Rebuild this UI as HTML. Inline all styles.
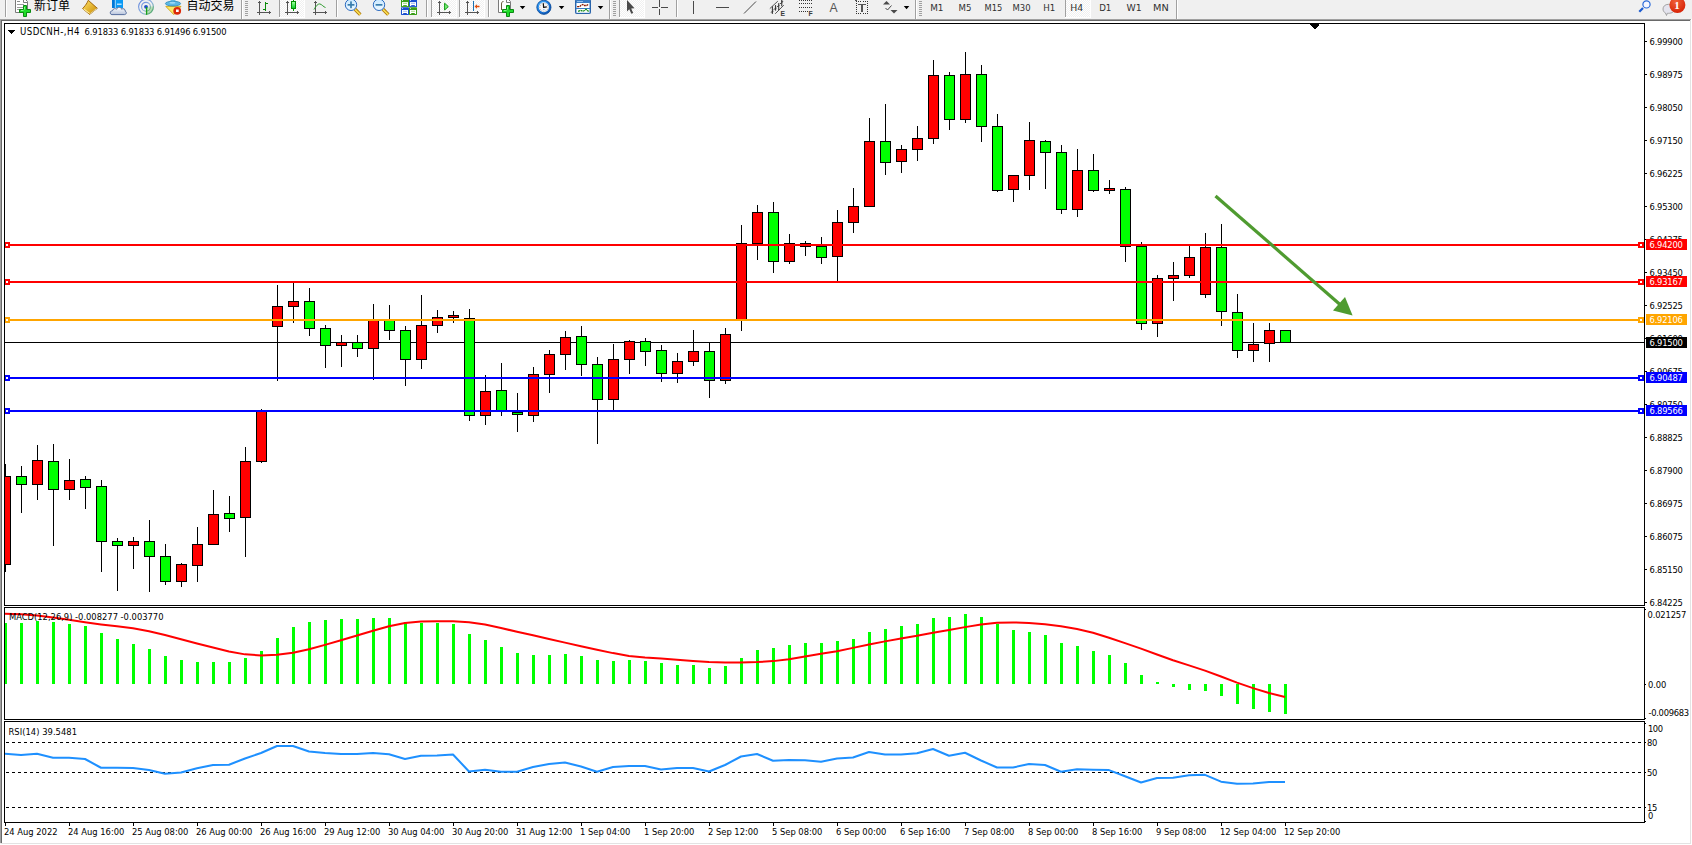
<!DOCTYPE html>
<html><head><meta charset="utf-8"><title>MT4 USDCNH H4</title>
<style>
html,body{margin:0;padding:0;}
body{width:1692px;height:845px;overflow:hidden;background:#f0f0f0;position:relative;}
svg{position:absolute;left:0;top:0;display:block;}
text{font-family:"DejaVu Sans Condensed","DejaVu Sans","Liberation Sans",sans-serif;font-stretch:condensed;font-size:9.3px;letter-spacing:0;fill:#000;white-space:pre;}
text.cjk{font-family:"Liberation Sans","Noto Sans CJK SC",sans-serif;font-size:12px;letter-spacing:0;}
text.tf{font-family:"DejaVu Sans","Liberation Sans",sans-serif;font-stretch:normal;font-size:9.5px;fill:#303030;}
text.wl{fill:#fff;}
</style></head><body>
<svg width="1692" height="845" viewBox="0 0 1692 845">
<rect x="0" y="0" width="1692" height="19" fill="#f0f0f0"/>
<rect x="0" y="19" width="1691" height="1" fill="#a0a0a0"/>
<rect x="0" y="19" width="1" height="824" fill="#a0a0a0"/>
<rect x="1" y="20" width="1689" height="1" fill="#696969"/>
<rect x="1" y="20" width="1" height="823" fill="#696969"/>
<rect x="1690" y="20" width="1" height="824" fill="#e3e3e3"/>
<rect x="1" y="843" width="1690" height="1" fill="#e3e3e3"/>
<rect x="1691" y="19" width="1" height="826" fill="#ffffff"/>
<rect x="0" y="844" width="1692" height="1" fill="#ffffff"/>
<rect x="2" y="21" width="1688" height="822" fill="#ffffff"/>
<defs><clipPath id="cp"><rect x="5" y="24" width="1639" height="581"/></clipPath><clipPath id="cm"><rect x="5" y="608" width="1639" height="111"/></clipPath><clipPath id="cr"><rect x="5" y="722" width="1639" height="100"/></clipPath></defs>
<g clip-path="url(#cp)" shape-rendering="crispEdges">
<rect x="5" y="342" width="1639" height="1" fill="#000000"/>
<rect x="5" y="464" width="1" height="108" fill="#000"/>
<rect x="0" y="476" width="11" height="89" fill="#000"/>
<rect x="1" y="477" width="9" height="87" fill="#ff0000"/>
<rect x="21" y="466" width="1" height="47" fill="#000"/>
<rect x="16" y="476" width="11" height="9" fill="#000"/>
<rect x="17" y="477" width="9" height="7" fill="#00ff00"/>
<rect x="37" y="445" width="1" height="55" fill="#000"/>
<rect x="32" y="460" width="11" height="25" fill="#000"/>
<rect x="33" y="461" width="9" height="23" fill="#ff0000"/>
<rect x="53" y="444" width="1" height="102" fill="#000"/>
<rect x="48" y="461" width="11" height="29" fill="#000"/>
<rect x="49" y="462" width="9" height="27" fill="#00ff00"/>
<rect x="69" y="459" width="1" height="41" fill="#000"/>
<rect x="64" y="480" width="11" height="10" fill="#000"/>
<rect x="65" y="481" width="9" height="8" fill="#ff0000"/>
<rect x="85" y="476" width="1" height="33" fill="#000"/>
<rect x="80" y="479" width="11" height="9" fill="#000"/>
<rect x="81" y="480" width="9" height="7" fill="#00ff00"/>
<rect x="101" y="480" width="1" height="92" fill="#000"/>
<rect x="96" y="486" width="11" height="56" fill="#000"/>
<rect x="97" y="487" width="9" height="54" fill="#00ff00"/>
<rect x="117" y="538" width="1" height="53" fill="#000"/>
<rect x="112" y="541" width="11" height="5" fill="#000"/>
<rect x="113" y="542" width="9" height="3" fill="#00ff00"/>
<rect x="133" y="537" width="1" height="32" fill="#000"/>
<rect x="128" y="541" width="11" height="5" fill="#000"/>
<rect x="129" y="542" width="9" height="3" fill="#ff0000"/>
<rect x="149" y="520" width="1" height="72" fill="#000"/>
<rect x="144" y="541" width="11" height="16" fill="#000"/>
<rect x="145" y="542" width="9" height="14" fill="#00ff00"/>
<rect x="165" y="544" width="1" height="41" fill="#000"/>
<rect x="160" y="556" width="11" height="26" fill="#000"/>
<rect x="161" y="557" width="9" height="24" fill="#00ff00"/>
<rect x="181" y="563" width="1" height="24" fill="#000"/>
<rect x="176" y="564" width="11" height="18" fill="#000"/>
<rect x="177" y="565" width="9" height="16" fill="#ff0000"/>
<rect x="197" y="527" width="1" height="55" fill="#000"/>
<rect x="192" y="544" width="11" height="22" fill="#000"/>
<rect x="193" y="545" width="9" height="20" fill="#ff0000"/>
<rect x="213" y="490" width="1" height="55" fill="#000"/>
<rect x="208" y="514" width="11" height="31" fill="#000"/>
<rect x="209" y="515" width="9" height="29" fill="#ff0000"/>
<rect x="229" y="496" width="1" height="36" fill="#000"/>
<rect x="224" y="513" width="11" height="6" fill="#000"/>
<rect x="225" y="514" width="9" height="4" fill="#00ff00"/>
<rect x="245" y="447" width="1" height="110" fill="#000"/>
<rect x="240" y="461" width="11" height="57" fill="#000"/>
<rect x="241" y="462" width="9" height="55" fill="#ff0000"/>
<rect x="261" y="409" width="1" height="54" fill="#000"/>
<rect x="256" y="410" width="11" height="52" fill="#000"/>
<rect x="257" y="411" width="9" height="50" fill="#ff0000"/>
<rect x="277" y="285" width="1" height="96" fill="#000"/>
<rect x="272" y="306" width="11" height="21" fill="#000"/>
<rect x="273" y="307" width="9" height="19" fill="#ff0000"/>
<rect x="293" y="283" width="1" height="40" fill="#000"/>
<rect x="288" y="301" width="11" height="6" fill="#000"/>
<rect x="289" y="302" width="9" height="4" fill="#ff0000"/>
<rect x="309" y="288" width="1" height="48" fill="#000"/>
<rect x="304" y="301" width="11" height="28" fill="#000"/>
<rect x="305" y="302" width="9" height="26" fill="#00ff00"/>
<rect x="325" y="325" width="1" height="43" fill="#000"/>
<rect x="320" y="328" width="11" height="18" fill="#000"/>
<rect x="321" y="329" width="9" height="16" fill="#00ff00"/>
<rect x="341" y="335" width="1" height="32" fill="#000"/>
<rect x="336" y="342" width="11" height="4" fill="#000"/>
<rect x="337" y="343" width="9" height="2" fill="#ff0000"/>
<rect x="357" y="335" width="1" height="22" fill="#000"/>
<rect x="352" y="342" width="11" height="7" fill="#000"/>
<rect x="353" y="343" width="9" height="5" fill="#00ff00"/>
<rect x="373" y="304" width="1" height="76" fill="#000"/>
<rect x="368" y="320" width="11" height="29" fill="#000"/>
<rect x="369" y="321" width="9" height="27" fill="#ff0000"/>
<rect x="389" y="305" width="1" height="35" fill="#000"/>
<rect x="384" y="320" width="11" height="11" fill="#000"/>
<rect x="385" y="321" width="9" height="9" fill="#00ff00"/>
<rect x="405" y="326" width="1" height="60" fill="#000"/>
<rect x="400" y="330" width="11" height="30" fill="#000"/>
<rect x="401" y="331" width="9" height="28" fill="#00ff00"/>
<rect x="421" y="295" width="1" height="74" fill="#000"/>
<rect x="416" y="325" width="11" height="35" fill="#000"/>
<rect x="417" y="326" width="9" height="33" fill="#ff0000"/>
<rect x="437" y="310" width="1" height="23" fill="#000"/>
<rect x="432" y="317" width="11" height="9" fill="#000"/>
<rect x="433" y="318" width="9" height="7" fill="#ff0000"/>
<rect x="453" y="311" width="1" height="12" fill="#000"/>
<rect x="448" y="315" width="11" height="3" fill="#000"/>
<rect x="449" y="316" width="9" height="1" fill="#ff0000"/>
<rect x="469" y="309" width="1" height="112" fill="#000"/>
<rect x="464" y="318" width="11" height="98" fill="#000"/>
<rect x="465" y="319" width="9" height="96" fill="#00ff00"/>
<rect x="485" y="375" width="1" height="50" fill="#000"/>
<rect x="480" y="391" width="11" height="25" fill="#000"/>
<rect x="481" y="392" width="9" height="23" fill="#ff0000"/>
<rect x="501" y="363" width="1" height="53" fill="#000"/>
<rect x="496" y="390" width="11" height="22" fill="#000"/>
<rect x="497" y="391" width="9" height="20" fill="#00ff00"/>
<rect x="517" y="393" width="1" height="39" fill="#000"/>
<rect x="512" y="412" width="11" height="3" fill="#000"/>
<rect x="513" y="413" width="9" height="1" fill="#00ff00"/>
<rect x="533" y="367" width="1" height="55" fill="#000"/>
<rect x="528" y="374" width="11" height="42" fill="#000"/>
<rect x="529" y="375" width="9" height="40" fill="#ff0000"/>
<rect x="549" y="350" width="1" height="43" fill="#000"/>
<rect x="544" y="354" width="11" height="21" fill="#000"/>
<rect x="545" y="355" width="9" height="19" fill="#ff0000"/>
<rect x="565" y="331" width="1" height="39" fill="#000"/>
<rect x="560" y="337" width="11" height="18" fill="#000"/>
<rect x="561" y="338" width="9" height="16" fill="#ff0000"/>
<rect x="581" y="326" width="1" height="50" fill="#000"/>
<rect x="576" y="336" width="11" height="29" fill="#000"/>
<rect x="577" y="337" width="9" height="27" fill="#00ff00"/>
<rect x="597" y="357" width="1" height="87" fill="#000"/>
<rect x="592" y="364" width="11" height="36" fill="#000"/>
<rect x="593" y="365" width="9" height="34" fill="#00ff00"/>
<rect x="613" y="344" width="1" height="67" fill="#000"/>
<rect x="608" y="359" width="11" height="41" fill="#000"/>
<rect x="609" y="360" width="9" height="39" fill="#ff0000"/>
<rect x="629" y="340" width="1" height="34" fill="#000"/>
<rect x="624" y="341" width="11" height="19" fill="#000"/>
<rect x="625" y="342" width="9" height="17" fill="#ff0000"/>
<rect x="645" y="338" width="1" height="28" fill="#000"/>
<rect x="640" y="341" width="11" height="11" fill="#000"/>
<rect x="641" y="342" width="9" height="9" fill="#00ff00"/>
<rect x="661" y="345" width="1" height="37" fill="#000"/>
<rect x="656" y="350" width="11" height="24" fill="#000"/>
<rect x="657" y="351" width="9" height="22" fill="#00ff00"/>
<rect x="677" y="353" width="1" height="30" fill="#000"/>
<rect x="672" y="361" width="11" height="13" fill="#000"/>
<rect x="673" y="362" width="9" height="11" fill="#ff0000"/>
<rect x="693" y="330" width="1" height="36" fill="#000"/>
<rect x="688" y="351" width="11" height="11" fill="#000"/>
<rect x="689" y="352" width="9" height="9" fill="#ff0000"/>
<rect x="709" y="342" width="1" height="56" fill="#000"/>
<rect x="704" y="351" width="11" height="30" fill="#000"/>
<rect x="705" y="352" width="9" height="28" fill="#00ff00"/>
<rect x="725" y="328" width="1" height="56" fill="#000"/>
<rect x="720" y="334" width="11" height="47" fill="#000"/>
<rect x="721" y="335" width="9" height="45" fill="#ff0000"/>
<rect x="741" y="225" width="1" height="106" fill="#000"/>
<rect x="736" y="243" width="11" height="77" fill="#000"/>
<rect x="737" y="244" width="9" height="75" fill="#ff0000"/>
<rect x="757" y="205" width="1" height="55" fill="#000"/>
<rect x="752" y="212" width="11" height="32" fill="#000"/>
<rect x="753" y="213" width="9" height="30" fill="#ff0000"/>
<rect x="773" y="202" width="1" height="71" fill="#000"/>
<rect x="768" y="212" width="11" height="50" fill="#000"/>
<rect x="769" y="213" width="9" height="48" fill="#00ff00"/>
<rect x="789" y="234" width="1" height="30" fill="#000"/>
<rect x="784" y="243" width="11" height="19" fill="#000"/>
<rect x="785" y="244" width="9" height="17" fill="#ff0000"/>
<rect x="805" y="241" width="1" height="15" fill="#000"/>
<rect x="800" y="243" width="11" height="4" fill="#000"/>
<rect x="801" y="244" width="9" height="2" fill="#ff0000"/>
<rect x="821" y="237" width="1" height="27" fill="#000"/>
<rect x="816" y="246" width="11" height="12" fill="#000"/>
<rect x="817" y="247" width="9" height="10" fill="#00ff00"/>
<rect x="837" y="210" width="1" height="72" fill="#000"/>
<rect x="832" y="222" width="11" height="35" fill="#000"/>
<rect x="833" y="223" width="9" height="33" fill="#ff0000"/>
<rect x="853" y="188" width="1" height="45" fill="#000"/>
<rect x="848" y="206" width="11" height="17" fill="#000"/>
<rect x="849" y="207" width="9" height="15" fill="#ff0000"/>
<rect x="869" y="118" width="1" height="89" fill="#000"/>
<rect x="864" y="141" width="11" height="66" fill="#000"/>
<rect x="865" y="142" width="9" height="64" fill="#ff0000"/>
<rect x="885" y="104" width="1" height="71" fill="#000"/>
<rect x="880" y="141" width="11" height="22" fill="#000"/>
<rect x="881" y="142" width="9" height="20" fill="#00ff00"/>
<rect x="901" y="145" width="1" height="28" fill="#000"/>
<rect x="896" y="149" width="11" height="13" fill="#000"/>
<rect x="897" y="150" width="9" height="11" fill="#ff0000"/>
<rect x="917" y="126" width="1" height="35" fill="#000"/>
<rect x="912" y="138" width="11" height="12" fill="#000"/>
<rect x="913" y="139" width="9" height="10" fill="#ff0000"/>
<rect x="933" y="60" width="1" height="84" fill="#000"/>
<rect x="928" y="75" width="11" height="64" fill="#000"/>
<rect x="929" y="76" width="9" height="62" fill="#ff0000"/>
<rect x="949" y="72" width="1" height="58" fill="#000"/>
<rect x="944" y="75" width="11" height="45" fill="#000"/>
<rect x="945" y="76" width="9" height="43" fill="#00ff00"/>
<rect x="965" y="52" width="1" height="71" fill="#000"/>
<rect x="960" y="74" width="11" height="46" fill="#000"/>
<rect x="961" y="75" width="9" height="44" fill="#ff0000"/>
<rect x="981" y="65" width="1" height="77" fill="#000"/>
<rect x="976" y="74" width="11" height="53" fill="#000"/>
<rect x="977" y="75" width="9" height="51" fill="#00ff00"/>
<rect x="997" y="114" width="1" height="78" fill="#000"/>
<rect x="992" y="126" width="11" height="65" fill="#000"/>
<rect x="993" y="127" width="9" height="63" fill="#00ff00"/>
<rect x="1013" y="175" width="1" height="27" fill="#000"/>
<rect x="1008" y="175" width="11" height="15" fill="#000"/>
<rect x="1009" y="176" width="9" height="13" fill="#ff0000"/>
<rect x="1029" y="122" width="1" height="68" fill="#000"/>
<rect x="1024" y="140" width="11" height="36" fill="#000"/>
<rect x="1025" y="141" width="9" height="34" fill="#ff0000"/>
<rect x="1045" y="140" width="1" height="49" fill="#000"/>
<rect x="1040" y="141" width="11" height="12" fill="#000"/>
<rect x="1041" y="142" width="9" height="10" fill="#00ff00"/>
<rect x="1061" y="145" width="1" height="69" fill="#000"/>
<rect x="1056" y="152" width="11" height="58" fill="#000"/>
<rect x="1057" y="153" width="9" height="56" fill="#00ff00"/>
<rect x="1077" y="149" width="1" height="68" fill="#000"/>
<rect x="1072" y="170" width="11" height="40" fill="#000"/>
<rect x="1073" y="171" width="9" height="38" fill="#ff0000"/>
<rect x="1093" y="154" width="1" height="38" fill="#000"/>
<rect x="1088" y="170" width="11" height="21" fill="#000"/>
<rect x="1089" y="171" width="9" height="19" fill="#00ff00"/>
<rect x="1109" y="180" width="1" height="14" fill="#000"/>
<rect x="1104" y="188" width="11" height="3" fill="#000"/>
<rect x="1105" y="189" width="9" height="1" fill="#ff0000"/>
<rect x="1125" y="187" width="1" height="75" fill="#000"/>
<rect x="1120" y="189" width="11" height="58" fill="#000"/>
<rect x="1121" y="190" width="9" height="56" fill="#00ff00"/>
<rect x="1141" y="242" width="1" height="88" fill="#000"/>
<rect x="1136" y="246" width="11" height="78" fill="#000"/>
<rect x="1137" y="247" width="9" height="76" fill="#00ff00"/>
<rect x="1157" y="275" width="1" height="62" fill="#000"/>
<rect x="1152" y="278" width="11" height="46" fill="#000"/>
<rect x="1153" y="279" width="9" height="44" fill="#ff0000"/>
<rect x="1173" y="262" width="1" height="39" fill="#000"/>
<rect x="1168" y="275" width="11" height="4" fill="#000"/>
<rect x="1169" y="276" width="9" height="2" fill="#ff0000"/>
<rect x="1189" y="245" width="1" height="33" fill="#000"/>
<rect x="1184" y="257" width="11" height="19" fill="#000"/>
<rect x="1185" y="258" width="9" height="17" fill="#ff0000"/>
<rect x="1205" y="233" width="1" height="65" fill="#000"/>
<rect x="1200" y="247" width="11" height="48" fill="#000"/>
<rect x="1201" y="248" width="9" height="46" fill="#ff0000"/>
<rect x="1221" y="224" width="1" height="102" fill="#000"/>
<rect x="1216" y="247" width="11" height="65" fill="#000"/>
<rect x="1217" y="248" width="9" height="63" fill="#00ff00"/>
<rect x="1237" y="294" width="1" height="64" fill="#000"/>
<rect x="1232" y="312" width="11" height="39" fill="#000"/>
<rect x="1233" y="313" width="9" height="37" fill="#00ff00"/>
<rect x="1253" y="323" width="1" height="39" fill="#000"/>
<rect x="1248" y="344" width="11" height="7" fill="#000"/>
<rect x="1249" y="345" width="9" height="5" fill="#ff0000"/>
<rect x="1269" y="323" width="1" height="39" fill="#000"/>
<rect x="1264" y="330" width="11" height="14" fill="#000"/>
<rect x="1265" y="331" width="9" height="12" fill="#ff0000"/>
<rect x="1285" y="330" width="1" height="13" fill="#000"/>
<rect x="1280" y="330" width="11" height="13" fill="#000"/>
<rect x="1281" y="331" width="9" height="11" fill="#00ff00"/>
</g>
<g shape-rendering="crispEdges">
<rect x="5" y="244" width="1639" height="2" fill="#ff0000"/>
<rect x="4" y="242" width="6" height="6" fill="#ff0000"/>
<rect x="6" y="244" width="2" height="2" fill="#fff"/>
<rect x="1638" y="242" width="6" height="6" fill="#ff0000"/>
<rect x="1640" y="244" width="2" height="2" fill="#fff"/>
<rect x="5" y="281" width="1639" height="2" fill="#ff0000"/>
<rect x="4" y="279" width="6" height="6" fill="#ff0000"/>
<rect x="6" y="281" width="2" height="2" fill="#fff"/>
<rect x="1638" y="279" width="6" height="6" fill="#ff0000"/>
<rect x="1640" y="281" width="2" height="2" fill="#fff"/>
<rect x="5" y="319" width="1639" height="2" fill="#ffa500"/>
<rect x="4" y="317" width="6" height="6" fill="#ffa500"/>
<rect x="6" y="319" width="2" height="2" fill="#fff"/>
<rect x="1638" y="317" width="6" height="6" fill="#ffa500"/>
<rect x="1640" y="319" width="2" height="2" fill="#fff"/>
<rect x="5" y="377" width="1639" height="2" fill="#0000ff"/>
<rect x="4" y="375" width="6" height="6" fill="#0000ff"/>
<rect x="6" y="377" width="2" height="2" fill="#fff"/>
<rect x="1638" y="375" width="6" height="6" fill="#0000ff"/>
<rect x="1640" y="377" width="2" height="2" fill="#fff"/>
<rect x="5" y="410" width="1639" height="2" fill="#0000ff"/>
<rect x="4" y="408" width="6" height="6" fill="#0000ff"/>
<rect x="6" y="410" width="2" height="2" fill="#fff"/>
<rect x="1638" y="408" width="6" height="6" fill="#0000ff"/>
<rect x="1640" y="410" width="2" height="2" fill="#fff"/>
</g>
<line x1="1215.5" y1="196" x2="1340" y2="304.5" stroke="#4f9b30" stroke-width="3.2"/>
<polygon points="1352.6,315.4 1333.0,310.6 1345.0,297.0" fill="#4f9b30"/>
<g fill="none" stroke="#000" stroke-width="1" shape-rendering="crispEdges">
<rect x="4.5" y="23.5" width="1640" height="582"/>
<rect x="4.5" y="607.5" width="1640" height="112"/>
<rect x="4.5" y="721.5" width="1640" height="101"/>
</g>
<g shape-rendering="crispEdges">
<rect x="1310" y="23" width="10" height="1" fill="#000"/>
<rect x="1310" y="24" width="9" height="1" fill="#000"/>
<rect x="1311" y="25" width="8" height="1" fill="#000"/>
<rect x="1312" y="26" width="6" height="1" fill="#000"/>
<rect x="1313" y="27" width="4" height="1" fill="#000"/>
<rect x="1314" y="28" width="2" height="1" fill="#000"/>
</g>
<g shape-rendering="crispEdges">
<rect x="1645" y="41" width="2" height="1" fill="#000"/>
<rect x="1645" y="74" width="2" height="1" fill="#000"/>
<rect x="1645" y="107" width="2" height="1" fill="#000"/>
<rect x="1645" y="140" width="2" height="1" fill="#000"/>
<rect x="1645" y="173" width="2" height="1" fill="#000"/>
<rect x="1645" y="206" width="2" height="1" fill="#000"/>
<rect x="1645" y="239" width="2" height="1" fill="#000"/>
<rect x="1645" y="272" width="2" height="1" fill="#000"/>
<rect x="1645" y="305" width="2" height="1" fill="#000"/>
<rect x="1645" y="338" width="2" height="1" fill="#000"/>
<rect x="1645" y="371" width="2" height="1" fill="#000"/>
<rect x="1645" y="404" width="2" height="1" fill="#000"/>
<rect x="1645" y="437" width="2" height="1" fill="#000"/>
<rect x="1645" y="470" width="2" height="1" fill="#000"/>
<rect x="1645" y="503" width="2" height="1" fill="#000"/>
<rect x="1645" y="536" width="2" height="1" fill="#000"/>
<rect x="1645" y="569" width="2" height="1" fill="#000"/>
<rect x="1645" y="602" width="2" height="1" fill="#000"/>
</g>
<text class="ax" x="1649.6" y="45" textLength="33.2">6.99900</text>
<text class="ax" x="1649.6" y="78" textLength="33.2">6.98975</text>
<text class="ax" x="1649.6" y="111" textLength="33.2">6.98050</text>
<text class="ax" x="1649.6" y="144" textLength="33.2">6.97150</text>
<text class="ax" x="1649.6" y="177" textLength="33.2">6.96225</text>
<text class="ax" x="1649.6" y="210" textLength="33.2">6.95300</text>
<text class="ax" x="1649.6" y="243" textLength="33.2">6.94375</text>
<text class="ax" x="1649.6" y="276" textLength="33.2">6.93450</text>
<text class="ax" x="1649.6" y="309" textLength="33.2">6.92525</text>
<text class="ax" x="1649.6" y="342" textLength="33.2">6.91600</text>
<text class="ax" x="1649.6" y="375" textLength="33.2">6.90675</text>
<text class="ax" x="1649.6" y="408" textLength="33.2">6.89750</text>
<text class="ax" x="1649.6" y="441" textLength="33.2">6.88825</text>
<text class="ax" x="1649.6" y="474" textLength="33.2">6.87900</text>
<text class="ax" x="1649.6" y="507" textLength="33.2">6.86975</text>
<text class="ax" x="1649.6" y="540" textLength="33.2">6.86075</text>
<text class="ax" x="1649.6" y="573" textLength="33.2">6.85150</text>
<text class="ax" x="1649.6" y="606" textLength="33.2">6.84225</text>
<g shape-rendering="crispEdges">
<rect x="1646" y="239" width="41" height="11" fill="#ff0000"/>
<rect x="1646" y="276" width="41" height="11" fill="#ff0000"/>
<rect x="1646" y="314" width="41" height="11" fill="#ffa500"/>
<rect x="1646" y="337" width="41" height="11" fill="#000000"/>
<rect x="1646" y="372" width="41" height="11" fill="#0000ff"/>
<rect x="1646" y="405" width="41" height="11" fill="#0000ff"/>
</g>
<text class="ax wl" x="1649.6" y="248.2" textLength="33.2">6.94200</text>
<text class="ax wl" x="1649.6" y="285.2" textLength="33.2">6.93167</text>
<text class="ax wl" x="1649.6" y="323.2" textLength="33.2">6.92106</text>
<text class="ax wl" x="1649.6" y="346.2" textLength="33.2">6.91500</text>
<text class="ax wl" x="1649.6" y="381.2" textLength="33.2">6.90487</text>
<text class="ax wl" x="1649.6" y="414.2" textLength="33.2">6.89566</text>
<g clip-path="url(#cm)" shape-rendering="crispEdges">
<rect x="4" y="623" width="3" height="61" fill="#00ff00"/>
<rect x="20" y="623" width="3" height="61" fill="#00ff00"/>
<rect x="36" y="621" width="3" height="63" fill="#00ff00"/>
<rect x="52" y="622" width="3" height="62" fill="#00ff00"/>
<rect x="68" y="624" width="3" height="60" fill="#00ff00"/>
<rect x="84" y="626" width="3" height="58" fill="#00ff00"/>
<rect x="100" y="633" width="3" height="51" fill="#00ff00"/>
<rect x="116" y="639" width="3" height="45" fill="#00ff00"/>
<rect x="132" y="644" width="3" height="40" fill="#00ff00"/>
<rect x="148" y="649" width="3" height="35" fill="#00ff00"/>
<rect x="164" y="656" width="3" height="28" fill="#00ff00"/>
<rect x="180" y="660" width="3" height="24" fill="#00ff00"/>
<rect x="196" y="662" width="3" height="22" fill="#00ff00"/>
<rect x="212" y="662" width="3" height="22" fill="#00ff00"/>
<rect x="228" y="662" width="3" height="22" fill="#00ff00"/>
<rect x="244" y="658" width="3" height="26" fill="#00ff00"/>
<rect x="260" y="651" width="3" height="33" fill="#00ff00"/>
<rect x="276" y="638" width="3" height="46" fill="#00ff00"/>
<rect x="292" y="627" width="3" height="57" fill="#00ff00"/>
<rect x="308" y="622" width="3" height="62" fill="#00ff00"/>
<rect x="324" y="620" width="3" height="64" fill="#00ff00"/>
<rect x="340" y="619" width="3" height="65" fill="#00ff00"/>
<rect x="356" y="619" width="3" height="65" fill="#00ff00"/>
<rect x="372" y="618" width="3" height="66" fill="#00ff00"/>
<rect x="388" y="618" width="3" height="66" fill="#00ff00"/>
<rect x="404" y="622" width="3" height="62" fill="#00ff00"/>
<rect x="420" y="623" width="3" height="61" fill="#00ff00"/>
<rect x="436" y="623" width="3" height="61" fill="#00ff00"/>
<rect x="452" y="624" width="3" height="60" fill="#00ff00"/>
<rect x="468" y="634" width="3" height="50" fill="#00ff00"/>
<rect x="484" y="640" width="3" height="44" fill="#00ff00"/>
<rect x="500" y="647" width="3" height="37" fill="#00ff00"/>
<rect x="516" y="653" width="3" height="31" fill="#00ff00"/>
<rect x="532" y="655" width="3" height="29" fill="#00ff00"/>
<rect x="548" y="655" width="3" height="29" fill="#00ff00"/>
<rect x="564" y="654" width="3" height="30" fill="#00ff00"/>
<rect x="580" y="656" width="3" height="28" fill="#00ff00"/>
<rect x="596" y="660" width="3" height="24" fill="#00ff00"/>
<rect x="612" y="661" width="3" height="23" fill="#00ff00"/>
<rect x="628" y="660" width="3" height="24" fill="#00ff00"/>
<rect x="644" y="661" width="3" height="23" fill="#00ff00"/>
<rect x="660" y="663" width="3" height="21" fill="#00ff00"/>
<rect x="676" y="665" width="3" height="19" fill="#00ff00"/>
<rect x="692" y="665" width="3" height="19" fill="#00ff00"/>
<rect x="708" y="668" width="3" height="16" fill="#00ff00"/>
<rect x="724" y="666" width="3" height="18" fill="#00ff00"/>
<rect x="740" y="658" width="3" height="26" fill="#00ff00"/>
<rect x="756" y="650" width="3" height="34" fill="#00ff00"/>
<rect x="772" y="648" width="3" height="36" fill="#00ff00"/>
<rect x="788" y="645" width="3" height="39" fill="#00ff00"/>
<rect x="804" y="643" width="3" height="41" fill="#00ff00"/>
<rect x="820" y="643" width="3" height="41" fill="#00ff00"/>
<rect x="836" y="641" width="3" height="43" fill="#00ff00"/>
<rect x="852" y="639" width="3" height="45" fill="#00ff00"/>
<rect x="868" y="632" width="3" height="52" fill="#00ff00"/>
<rect x="884" y="629" width="3" height="55" fill="#00ff00"/>
<rect x="900" y="626" width="3" height="58" fill="#00ff00"/>
<rect x="916" y="624" width="3" height="60" fill="#00ff00"/>
<rect x="932" y="618" width="3" height="66" fill="#00ff00"/>
<rect x="948" y="617" width="3" height="67" fill="#00ff00"/>
<rect x="964" y="614" width="3" height="70" fill="#00ff00"/>
<rect x="980" y="617" width="3" height="67" fill="#00ff00"/>
<rect x="996" y="624" width="3" height="60" fill="#00ff00"/>
<rect x="1012" y="630" width="3" height="54" fill="#00ff00"/>
<rect x="1028" y="632" width="3" height="52" fill="#00ff00"/>
<rect x="1044" y="635" width="3" height="49" fill="#00ff00"/>
<rect x="1060" y="643" width="3" height="41" fill="#00ff00"/>
<rect x="1076" y="646" width="3" height="38" fill="#00ff00"/>
<rect x="1092" y="651" width="3" height="33" fill="#00ff00"/>
<rect x="1108" y="655" width="3" height="29" fill="#00ff00"/>
<rect x="1124" y="663" width="3" height="21" fill="#00ff00"/>
<rect x="1140" y="675" width="3" height="9" fill="#00ff00"/>
<rect x="1156" y="682" width="3" height="2" fill="#00ff00"/>
<rect x="1172" y="684" width="3" height="3" fill="#00ff00"/>
<rect x="1188" y="684" width="3" height="6" fill="#00ff00"/>
<rect x="1204" y="684" width="3" height="7" fill="#00ff00"/>
<rect x="1220" y="684" width="3" height="12" fill="#00ff00"/>
<rect x="1236" y="684" width="3" height="20" fill="#00ff00"/>
<rect x="1252" y="684" width="3" height="25" fill="#00ff00"/>
<rect x="1268" y="684" width="3" height="28" fill="#00ff00"/>
<rect x="1284" y="684" width="3" height="30" fill="#00ff00"/>
</g>
<g clip-path="url(#cm)"><polyline points="5,613.75 21,614.37 37,615.43 53,617.40 69,619.83 85,622.24 101,624.45 117,626.34 133,628.33 149,631.16 165,634.95 181,639.23 197,643.53 213,647.59 229,651.45 245,654.37 261,655.38 277,654.85 293,652.82 309,649.22 325,644.87 341,640.27 357,635.53 373,630.79 389,626.32 405,622.95 421,621.45 437,621.13 453,621.28 469,622.23 485,624.52 501,628.02 517,631.74 533,635.33 549,638.98 565,642.64 581,646.24 597,649.73 613,653.11 629,655.90 645,657.54 661,658.62 677,659.82 693,661.10 709,662.09 725,662.47 741,662.47 757,662.11 773,661.12 789,659.20 805,656.50 821,653.85 837,651.15 853,647.89 869,644.46 885,641.39 901,638.57 917,635.72 933,632.84 949,629.96 965,627.13 981,624.48 997,622.70 1013,622.42 1029,623.06 1045,624.24 1061,626.24 1077,629.02 1093,632.79 1109,637.74 1125,643.16 1141,648.62 1157,654.45 1173,660.21 1189,665.38 1205,670.62 1221,676.55 1237,682.63 1253,688.15 1269,692.92 1285,697.00" fill="none" stroke="#ff0000" stroke-width="2" stroke-linejoin="round"/></g>
<g shape-rendering="crispEdges">
<rect x="1645" y="609" width="1" height="1" fill="#000"/>
<rect x="1645" y="684" width="1" height="1" fill="#000"/>
<rect x="1645" y="718" width="1" height="1" fill="#000"/>
</g>
<text class="ax" x="1647.5" y="618" textLength="38.8">0.021257</text>
<text class="ax" x="1648" y="688" textLength="18.3">0.00</text>
<text class="ax" x="1648.4" y="716" textLength="40.8">-0.009683</text>
<text class="lab" x="9" y="620" textLength="154.5">MACD(12,26,9) -0.008277 -0.003770</text>
<g shape-rendering="crispEdges" stroke="#000" stroke-width="1" stroke-dasharray="3,3">
<line x1="0" y1="742.5" x2="1641" y2="742.5" clip-path="url(#cr)"/>
<line x1="0" y1="772.5" x2="1641" y2="772.5" clip-path="url(#cr)"/>
<line x1="0" y1="807.5" x2="1641" y2="807.5" clip-path="url(#cr)"/>
</g>
<g clip-path="url(#cr)"><polyline points="5,753.75 21,755 37,753.75 53,757.75 69,757.75 85,759 101,767.75 117,767.75 133,768 149,770 165,773.75 181,772.5 197,768.25 213,765 229,764.75 245,758.5 261,753 277,746 293,746 309,751.5 325,753 341,754 357,754 373,753 389,754.25 405,759 421,755.75 437,755.5 453,754.5 469,771.5 485,769.75 501,771.75 517,771.75 533,767 549,764 565,762.5 581,766.5 597,771.75 613,767 629,766 645,766 661,769.5 677,768 693,768 709,771.5 725,765 741,756.5 757,754 773,760.75 789,760 805,760.25 821,761.75 837,758.5 853,757.5 869,752 885,754.5 901,754.5 917,753.25 933,749 949,755.75 965,752.75 981,760.5 997,767.5 1013,767.5 1029,764 1045,765 1061,771.75 1077,769.3 1093,769.8 1109,770.1 1125,776.3 1141,782.5 1157,778 1173,777.8 1189,775.2 1205,774.8 1221,781.7 1237,783.7 1253,783.4 1269,782 1285,782" fill="none" stroke="#1e90ff" stroke-width="2" stroke-linejoin="round"/></g>
<g shape-rendering="crispEdges">
<rect x="1645" y="723" width="1" height="1" fill="#000"/>
<rect x="1645" y="742" width="1" height="1" fill="#000"/>
<rect x="1645" y="772" width="1" height="1" fill="#000"/>
<rect x="1645" y="807" width="1" height="1" fill="#000"/>
<rect x="1645" y="821" width="1" height="1" fill="#000"/>
</g>
<text class="ax" x="1648" y="732" textLength="15.0">100</text>
<text class="ax" x="1647" y="746" textLength="10.4">80</text>
<text class="ax" x="1647" y="776" textLength="10.4">50</text>
<text class="ax" x="1647" y="811" textLength="10.4">15</text>
<text class="ax" x="1648" y="819" textLength="5.6">0</text>
<text class="lab" x="8.5" y="734.5" textLength="68.5">RSI(14) 39.5481</text>
<g shape-rendering="crispEdges">
<rect x="5" y="823" width="1" height="3" fill="#000"/>
<rect x="69" y="823" width="1" height="3" fill="#000"/>
<rect x="133" y="823" width="1" height="3" fill="#000"/>
<rect x="197" y="823" width="1" height="3" fill="#000"/>
<rect x="261" y="823" width="1" height="3" fill="#000"/>
<rect x="325" y="823" width="1" height="3" fill="#000"/>
<rect x="389" y="823" width="1" height="3" fill="#000"/>
<rect x="453" y="823" width="1" height="3" fill="#000"/>
<rect x="517" y="823" width="1" height="3" fill="#000"/>
<rect x="581" y="823" width="1" height="3" fill="#000"/>
<rect x="645" y="823" width="1" height="3" fill="#000"/>
<rect x="709" y="823" width="1" height="3" fill="#000"/>
<rect x="773" y="823" width="1" height="3" fill="#000"/>
<rect x="837" y="823" width="1" height="3" fill="#000"/>
<rect x="901" y="823" width="1" height="3" fill="#000"/>
<rect x="965" y="823" width="1" height="3" fill="#000"/>
<rect x="1029" y="823" width="1" height="3" fill="#000"/>
<rect x="1093" y="823" width="1" height="3" fill="#000"/>
<rect x="1157" y="823" width="1" height="3" fill="#000"/>
<rect x="1221" y="823" width="1" height="3" fill="#000"/>
<rect x="1285" y="823" width="1" height="3" fill="#000"/>
</g>
<text class="ax tm" x="4.0" y="835" textLength="53.6">24 Aug 2022</text>
<text class="ax tm" x="68.0" y="835" textLength="56.4">24 Aug 16:00</text>
<text class="ax tm" x="132.0" y="835" textLength="56.4">25 Aug 08:00</text>
<text class="ax tm" x="196.0" y="835" textLength="56.4">26 Aug 00:00</text>
<text class="ax tm" x="260.0" y="835" textLength="56.4">26 Aug 16:00</text>
<text class="ax tm" x="324.0" y="835" textLength="56.4">29 Aug 12:00</text>
<text class="ax tm" x="388.0" y="835" textLength="56.4">30 Aug 04:00</text>
<text class="ax tm" x="452.0" y="835" textLength="56.4">30 Aug 20:00</text>
<text class="ax tm" x="516.0" y="835" textLength="56.4">31 Aug 12:00</text>
<text class="ax tm" x="580.0" y="835" textLength="50.4">1 Sep 04:00</text>
<text class="ax tm" x="644.0" y="835" textLength="50.4">1 Sep 20:00</text>
<text class="ax tm" x="708.0" y="835" textLength="50.4">2 Sep 12:00</text>
<text class="ax tm" x="772.0" y="835" textLength="50.4">5 Sep 08:00</text>
<text class="ax tm" x="836.0" y="835" textLength="50.4">6 Sep 00:00</text>
<text class="ax tm" x="900.0" y="835" textLength="50.4">6 Sep 16:00</text>
<text class="ax tm" x="964.0" y="835" textLength="50.4">7 Sep 08:00</text>
<text class="ax tm" x="1028.0" y="835" textLength="50.4">8 Sep 00:00</text>
<text class="ax tm" x="1092.0" y="835" textLength="50.4">8 Sep 16:00</text>
<text class="ax tm" x="1156.0" y="835" textLength="50.4">9 Sep 08:00</text>
<text class="ax tm" x="1220.0" y="835" textLength="56.4">12 Sep 04:00</text>
<text class="ax tm" x="1284.0" y="835" textLength="56.4">12 Sep 20:00</text>
<g shape-rendering="crispEdges">
<rect x="8" y="30" width="7" height="1" fill="#000"/>
<rect x="9" y="31" width="5" height="1" fill="#000"/>
<rect x="10" y="32" width="3" height="1" fill="#000"/>
<rect x="11" y="33" width="1" height="1" fill="#000"/>
</g>
<text class="lab" x="20" y="35" textLength="59.5" style="font-size:9.6px">USDCNH-,H4</text>
<text class="lab" x="84.6" y="35" textLength="142">6.91833 6.91833 6.91496 6.91500</text>
<defs><pattern id="chk" width="2" height="2" patternUnits="userSpaceOnUse"><rect width="2" height="2" fill="#f0f0f0"/><rect width="1" height="1" fill="#fff"/><rect x="1" y="1" width="1" height="1" fill="#fff"/></pattern><linearGradient id="gold" x1="0" y1="0" x2="1" y2="1"><stop offset="0" stop-color="#ffe36b"/><stop offset="1" stop-color="#c98a00"/></linearGradient><linearGradient id="lgreen" x1="0" y1="0" x2="0" y2="1"><stop offset="0" stop-color="#9cff9c"/><stop offset="1" stop-color="#10d030"/></linearGradient><radialGradient id="badge" cx="0.4" cy="0.3" r="0.8"><stop offset="0" stop-color="#f0603a"/><stop offset="1" stop-color="#d41c00"/></radialGradient><linearGradient id="lens" x1="0" y1="0" x2="0" y2="1"><stop offset="0" stop-color="#c8e8ff"/><stop offset="1" stop-color="#eef8ff"/></linearGradient><linearGradient id="cloud" x1="0" y1="0" x2="0" y2="1"><stop offset="0" stop-color="#ffffff"/><stop offset="1" stop-color="#b8c4dc"/></linearGradient><radialGradient id="clk" cx="0.35" cy="0.3" r="0.8"><stop offset="0" stop-color="#4ab4ff"/><stop offset="0.6" stop-color="#1a7ae0"/><stop offset="1" stop-color="#0848a0"/></radialGradient><linearGradient id="sigr" x1="0" y1="0" x2="1" y2="1"><stop offset="0" stop-color="#2a5ad8"/><stop offset="0.55" stop-color="#6a9ad8"/><stop offset="1" stop-color="#2a9a3a"/></linearGradient><linearGradient id="sigg" x1="0" y1="0" x2="1" y2="1"><stop offset="0" stop-color="#e8f4e0"/><stop offset="1" stop-color="#5ab85a"/></linearGradient></defs>
<g shape-rendering="crispEdges">
<rect x="5" y="0" width="1" height="17" fill="#a0a0a0"/>
<rect x="6" y="0" width="1" height="17" fill="#ffffff"/>
<rect x="241" y="0" width="1" height="19" fill="#a0a0a0"/>
<rect x="242" y="0" width="1" height="19" fill="#ffffff"/>
<rect x="245" y="1" width="3" height="1" fill="#a0a0a0"/>
<rect x="245" y="3" width="3" height="1" fill="#a0a0a0"/>
<rect x="245" y="5" width="3" height="1" fill="#a0a0a0"/>
<rect x="245" y="7" width="3" height="1" fill="#a0a0a0"/>
<rect x="245" y="9" width="3" height="1" fill="#a0a0a0"/>
<rect x="245" y="11" width="3" height="1" fill="#a0a0a0"/>
<rect x="245" y="13" width="3" height="1" fill="#a0a0a0"/>
<rect x="245" y="15" width="3" height="1" fill="#a0a0a0"/>
<rect x="279" y="0" width="1" height="17" fill="#a0a0a0"/>
<rect x="280" y="0" width="1" height="17" fill="#ffffff"/>
<rect x="279" y="0" width="1" height="17" fill="#a0a0a0"/>
<rect x="280" y="0" width="24" height="17" fill="url(#chk)"/>
<rect x="304" y="0" width="1" height="18" fill="#ffffff"/>
<rect x="279" y="17" width="26" height="1" fill="#ffffff"/>
<rect x="336" y="0" width="1" height="17" fill="#a0a0a0"/>
<rect x="337" y="0" width="1" height="17" fill="#ffffff"/>
<rect x="426" y="0" width="1" height="17" fill="#a0a0a0"/>
<rect x="427" y="0" width="1" height="17" fill="#ffffff"/>
<rect x="431" y="0" width="1" height="17" fill="#a0a0a0"/>
<rect x="432" y="0" width="24" height="17" fill="url(#chk)"/>
<rect x="456" y="0" width="1" height="18" fill="#ffffff"/>
<rect x="431" y="17" width="26" height="1" fill="#ffffff"/>
<rect x="459" y="0" width="1" height="17" fill="#a0a0a0"/>
<rect x="459" y="0" width="1" height="17" fill="#a0a0a0"/>
<rect x="460" y="0" width="24" height="17" fill="url(#chk)"/>
<rect x="484" y="0" width="1" height="18" fill="#ffffff"/>
<rect x="459" y="17" width="26" height="1" fill="#ffffff"/>
<rect x="488" y="0" width="1" height="17" fill="#a0a0a0"/>
<rect x="489" y="0" width="1" height="17" fill="#ffffff"/>
<rect x="609" y="0" width="1" height="19" fill="#a0a0a0"/>
<rect x="610" y="0" width="1" height="19" fill="#ffffff"/>
<rect x="613" y="1" width="3" height="1" fill="#a0a0a0"/>
<rect x="613" y="3" width="3" height="1" fill="#a0a0a0"/>
<rect x="613" y="5" width="3" height="1" fill="#a0a0a0"/>
<rect x="613" y="7" width="3" height="1" fill="#a0a0a0"/>
<rect x="613" y="9" width="3" height="1" fill="#a0a0a0"/>
<rect x="613" y="11" width="3" height="1" fill="#a0a0a0"/>
<rect x="613" y="13" width="3" height="1" fill="#a0a0a0"/>
<rect x="613" y="15" width="3" height="1" fill="#a0a0a0"/>
<rect x="619" y="0" width="1" height="17" fill="#a0a0a0"/>
<rect x="620" y="0" width="24" height="17" fill="url(#chk)"/>
<rect x="644" y="0" width="1" height="18" fill="#ffffff"/>
<rect x="619" y="17" width="26" height="1" fill="#ffffff"/>
<rect x="676" y="0" width="1" height="17" fill="#a0a0a0"/>
<rect x="677" y="0" width="1" height="17" fill="#ffffff"/>
<rect x="915" y="0" width="1" height="19" fill="#a0a0a0"/>
<rect x="916" y="0" width="1" height="19" fill="#ffffff"/>
<rect x="919" y="1" width="3" height="1" fill="#a0a0a0"/>
<rect x="919" y="3" width="3" height="1" fill="#a0a0a0"/>
<rect x="919" y="5" width="3" height="1" fill="#a0a0a0"/>
<rect x="919" y="7" width="3" height="1" fill="#a0a0a0"/>
<rect x="919" y="9" width="3" height="1" fill="#a0a0a0"/>
<rect x="919" y="11" width="3" height="1" fill="#a0a0a0"/>
<rect x="919" y="13" width="3" height="1" fill="#a0a0a0"/>
<rect x="919" y="15" width="3" height="1" fill="#a0a0a0"/>
<rect x="1065" y="0" width="1" height="17" fill="#a0a0a0"/>
<rect x="1066" y="0" width="24" height="17" fill="url(#chk)"/>
<rect x="1090" y="0" width="1" height="18" fill="#ffffff"/>
<rect x="1065" y="17" width="26" height="1" fill="#ffffff"/>
<rect x="1176" y="0" width="1" height="19" fill="#a0a0a0"/>
<rect x="1177" y="0" width="1" height="19" fill="#ffffff"/>
</g>
<path d="M15.5,-1.5 H24.5 L27.5,1.5 V12.5 H15.5 Z" fill="#fff" stroke="#7a7a7a" stroke-width="1"/>
<path d="M23.5,-1.5 V2.5 H27.5" fill="#fff" stroke="#7a7a7a" stroke-width="1"/>
<g shape-rendering="crispEdges">
<rect x="17" y="1" width="3" height="1" fill="#8a8a8a"/>
<rect x="17" y="4" width="7" height="1" fill="#9a9a9a"/>
<rect x="17" y="7" width="6" height="1" fill="#9a9a9a"/>
<rect x="17" y="9" width="3" height="1" fill="#9a9a9a"/>
</g>
<path d="M23.5,5.5 h3 v4 h4 v3 h-4 v4 h-3 v-4 h-4 v-3 h4 z" fill="#1fdc2a" stroke="#0b8a12" stroke-width="1"/>
<path d="M24.5,7.0 v2.5 M21.0,10.5 h2.5" stroke="#b0ffb0" stroke-width="0.9" opacity="0.8"/>
<text class="cjk" x="34" y="10.2">新订单</text>
<path d="M88.3,0.3 L97.3,8.3 L89.6,14.4 L82.6,8.6 C84.5,6.5 86.2,4.5 87.2,2.5 Z" fill="url(#gold)" stroke="#9a5c00" stroke-width="0.9" stroke-linejoin="round"/>
<path d="M83.6,8.9 L89.6,13.4" stroke="#fff0a0" stroke-width="1.1"/>
<path d="M90.3,13.6 L96.6,8.6" stroke="#e8dcae" stroke-width="0.9"/>
<path d="M112,-1 h11 v9 h-11 z" fill="#0a9af5"/>
<path d="M112,-1 h3 v9 h-3 z" fill="#0077d8"/>
<path d="M115.3,-1 v9" stroke="#c8ecff" stroke-width="0.8"/>
<rect x="117" y="3.6" width="4.6" height="1.2" fill="#e0f2ff"/>
<path d="M112,14.6 C109.5,14.6 109.6,10.8 112.6,10.6 C112.8,8.4 115.6,8.2 116.6,9.2 C117.4,6.6 121.2,6.8 121.6,9.2 C123,8 125.6,9 125.2,11.2 C127,11.8 126.5,14.6 124.5,14.6 Z" fill="url(#cloud)" stroke="#4a6396" stroke-width="0.9"/>
<path d="M146.4,6.8 L146.4,14.7 A7.9,7.9 0 0 0 153.9,6.2 Z" fill="url(#sigg)" opacity="0.75"/>
<circle cx="146" cy="6.8" r="7.4" fill="none" stroke="url(#sigr)" stroke-width="1.1" opacity="0.75"/>
<circle cx="146" cy="6.8" r="4.4" fill="none" stroke="url(#sigr)" stroke-width="1.1" opacity="0.7"/>
<circle cx="146" cy="6.8" r="1.9" fill="#2050c8"/>
<path d="M146.6,7 V14.8" stroke="#18a018" stroke-width="1.3"/>
<path d="M165.8,6.4 L181,6.4 L173.8,14.6 Z" fill="#fbe866" stroke="#c89a00" stroke-width="0.8" stroke-linejoin="round"/>
<path d="M169.5,3.5 L171.5,-2 H174.5 L176.5,3.5 Z" fill="#6cc4ee"/>
<ellipse cx="173" cy="3.6" rx="7.6" ry="2.4" fill="#5cb8e4" stroke="#2a88b8" stroke-width="0.8"/>
<ellipse cx="172.5" cy="2.8" rx="3" ry="1" fill="#9ad8f8"/>
<circle cx="177.2" cy="10.8" r="3.9" fill="#dc2a0a"/>
<rect x="176" y="9.5" width="2.7" height="2.5" fill="#fff"/>
<text class="cjk" x="186.5" y="10.2">自动交易</text>
<g shape-rendering="crispEdges">
<rect x="259" y="1" width="1" height="14" fill="#555555"/>
<rect x="258" y="2" width="3" height="1" fill="#555555"/>
<rect x="257" y="12" width="14" height="1" fill="#555555"/>
<rect x="269" y="11" width="1" height="3" fill="#555555"/>
</g>
<g shape-rendering="crispEdges">
<rect x="265" y="2" width="1" height="9" fill="#0a8a0a"/>
<rect x="266" y="3" width="2" height="1" fill="#0a8a0a"/>
<rect x="263" y="9" width="2" height="1" fill="#0a8a0a"/>
</g>
<g shape-rendering="crispEdges">
<rect x="287" y="1" width="1" height="14" fill="#555555"/>
<rect x="286" y="2" width="3" height="1" fill="#555555"/>
<rect x="285" y="12" width="14" height="1" fill="#555555"/>
<rect x="297" y="11" width="1" height="3" fill="#555555"/>
</g>
<g shape-rendering="crispEdges">
<rect x="293" y="0" width="1" height="11" fill="#009000"/>
<rect x="291" y="1" width="5" height="8" fill="#009000"/>
<rect x="292" y="2" width="3" height="6" fill="url(#lgreen)"/>
</g>
<g shape-rendering="crispEdges">
<rect x="315" y="1" width="1" height="14" fill="#555555"/>
<rect x="314" y="2" width="3" height="1" fill="#555555"/>
<rect x="313" y="12" width="14" height="1" fill="#555555"/>
<rect x="325" y="11" width="1" height="3" fill="#555555"/>
</g>
<path d="M314,9.5 C316,6 318,3.5 320,4 C322,4.5 323.5,7 325.5,7.5" fill="none" stroke="#2a9a2a" stroke-width="1"/>
<path d="M355,9.3 L360.3,14.600000000000001" stroke="#a87000" stroke-width="3.4"/>
<path d="M355,9.3 L360.3,14.600000000000001" stroke="#f8dc50" stroke-width="1.8"/>
<circle cx="351" cy="4.8" r="5.7" fill="url(#lens)" stroke="#2a6ac0" stroke-width="1"/>
<rect x="347.6" y="4.0" width="6.8" height="1.7" fill="#3a7eae"/>
<rect x="350.15" y="1.4" width="1.7" height="6.8" fill="#3a7eae"/>
<path d="M383,9.3 L388.3,14.600000000000001" stroke="#a87000" stroke-width="3.4"/>
<path d="M383,9.3 L388.3,14.600000000000001" stroke="#f8dc50" stroke-width="1.8"/>
<circle cx="379" cy="4.8" r="5.7" fill="url(#lens)" stroke="#2a6ac0" stroke-width="1"/>
<rect x="375.6" y="4.0" width="6.8" height="1.7" fill="#3a7eae"/>
<rect x="401" y="-0.6" width="8" height="7.6" fill="#3a9e18" rx="0.6"/>
<rect x="402" y="2.1" width="6" height="4" fill="#fff"/>
<rect x="403.2" y="5.1000000000000005" width="3.6" height="1" fill="#3a9e18"/>
<rect x="403" y="2.9" width="4" height="0.9" fill="#9ad67a"/>
<rect x="402" y="0.0" width="0.9" height="0.9" fill="#e8f0ff"/>
<rect x="409" y="-0.6" width="8" height="7.6" fill="#1a50d0" rx="0.6"/>
<rect x="410" y="2.1" width="6" height="4" fill="#fff"/>
<rect x="411.2" y="5.1000000000000005" width="3.6" height="1" fill="#1a50d0"/>
<rect x="411" y="2.9" width="4" height="0.9" fill="#9ab8f0"/>
<rect x="410" y="0.0" width="0.9" height="0.9" fill="#e8f0ff"/>
<rect x="401" y="7.3" width="8" height="7.6" fill="#1a50d0" rx="0.6"/>
<rect x="402" y="10.0" width="6" height="4" fill="#fff"/>
<rect x="403.2" y="13.0" width="3.6" height="1" fill="#1a50d0"/>
<rect x="403" y="10.8" width="4" height="0.9" fill="#9ab8f0"/>
<rect x="402" y="7.8999999999999995" width="0.9" height="0.9" fill="#e8f0ff"/>
<rect x="409" y="7.3" width="8" height="7.6" fill="#3a9e18" rx="0.6"/>
<rect x="410" y="10.0" width="6" height="4" fill="#fff"/>
<rect x="411.2" y="13.0" width="3.6" height="1" fill="#3a9e18"/>
<rect x="411" y="10.8" width="4" height="0.9" fill="#9ad67a"/>
<rect x="410" y="7.8999999999999995" width="0.9" height="0.9" fill="#e8f0ff"/>
<g shape-rendering="crispEdges">
<rect x="439" y="1" width="1" height="14" fill="#555555"/>
<rect x="438" y="2" width="3" height="1" fill="#555555"/>
<rect x="437" y="12" width="14" height="1" fill="#555555"/>
<rect x="449" y="11" width="1" height="3" fill="#555555"/>
</g>
<path d="M444.6,3.2 L448.3,6.6 L444.6,10 Z" fill="#7aef7a" stroke="#109a10" stroke-width="1" stroke-linejoin="round"/>
<g shape-rendering="crispEdges">
<rect x="467" y="1" width="1" height="14" fill="#555555"/>
<rect x="466" y="2" width="3" height="1" fill="#555555"/>
<rect x="465" y="12" width="14" height="1" fill="#555555"/>
<rect x="477" y="11" width="1" height="3" fill="#555555"/>
</g>
<g shape-rendering="crispEdges">
<rect x="473" y="1" width="1" height="10" fill="#1a70b0"/>
</g>
<path d="M474.5,6.5 L477,4.2 L477,5.8 L479.5,5.8 L479.5,7.2 L477,7.2 L477,8.8 Z" fill="#e05010"/>
<path d="M498.5,-1.5 H507.5 L510.5,1.5 V12.5 H498.5 Z" fill="#fff" stroke="#7a7a7a" stroke-width="1"/>
<path d="M506.5,-1.5 V2.5 H510.5" fill="#fff" stroke="#7a7a7a" stroke-width="1"/>
<path d="M503.5,1.5 C502,1.5 501.5,2.5 501.5,4 V10" fill="none" stroke="#5a4a2a" stroke-width="0.9"/>
<path d="M506.5,5.5 h3 v4 h4 v3 h-4 v4 h-3 v-4 h-4 v-3 h4 z" fill="#1fdc2a" stroke="#0b8a12" stroke-width="1"/>
<path d="M507.5,7.0 v2.5 M504.0,10.5 h2.5" stroke="#b0ffb0" stroke-width="0.9" opacity="0.8"/>
<path d="M519.8,6 h5.5 l-2.75,3.2 z" fill="#000"/>
<circle cx="543.9" cy="7.3" r="7.1" fill="url(#clk)" stroke="#0a4a98" stroke-width="0.8"/>
<circle cx="543.9" cy="7.3" r="5.0" fill="#f6f6f6"/>
<g fill="#9a9a9a">
<rect x="543.50" y="2.80" width="0.8" height="0.8"/>
<rect x="545.55" y="3.35" width="0.8" height="0.8"/>
<rect x="547.05" y="4.85" width="0.8" height="0.8"/>
<rect x="547.60" y="6.90" width="0.8" height="0.8"/>
<rect x="547.05" y="8.95" width="0.8" height="0.8"/>
<rect x="545.55" y="10.45" width="0.8" height="0.8"/>
<rect x="543.50" y="11.00" width="0.8" height="0.8"/>
<rect x="541.45" y="10.45" width="0.8" height="0.8"/>
<rect x="539.95" y="8.95" width="0.8" height="0.8"/>
<rect x="539.40" y="6.90" width="0.8" height="0.8"/>
<rect x="539.95" y="4.85" width="0.8" height="0.8"/>
<rect x="541.45" y="3.35" width="0.8" height="0.8"/>
</g>
<path d="M543.3,3.2 L543.6,7.4 L546.8,6.9" fill="none" stroke="#111" stroke-width="1.2" stroke-linejoin="round"/>
<rect x="543" y="9.4" width="1.6" height="0.7" fill="#5aa0f0"/>
<path d="M558.8,6 h5.5 l-2.75,3.2 z" fill="#000"/>
<rect x="575.5" y="-0.5" width="15" height="14" rx="0.8" fill="#3a7cc4" stroke="#2a64aa" stroke-width="1"/>
<rect x="577" y="1.2" width="6" height="0.8" fill="#a8d0f8"/>
<rect x="576.5" y="3" width="13" height="5" fill="#fff"/>
<rect x="576.5" y="9" width="13" height="3.8" fill="#fff"/>
<polyline points="577.1,6.6 579.7,6.6 580.8,5.5 582.9,4.4 584.4,5.5 586.5,5.5 588.3,4.4" fill="none" stroke="#8a1a00" stroke-width="1.3" stroke-dasharray="2,0.6"/>
<polyline points="578.1,11.3 580.8,10.5 582.9,11.3 584.4,10.5 586,9.3 587.2,10.3 588.6,11.5" fill="none" stroke="#108a10" stroke-width="1.3" stroke-dasharray="2,0.6"/>
<path d="M597.8,6 h5.5 l-2.75,3.2 z" fill="#000"/>
<path d="M627,0 L627,11.5 L629.3,9.3 L631.3,13.8 L633.2,13 L631.2,8.6 L634.5,8.3 Z" fill="#4a4a4a"/>
<g shape-rendering="crispEdges">
<rect x="659" y="0" width="1" height="7" fill="#4a4a4a"/>
<rect x="659" y="9" width="1" height="6" fill="#4a4a4a"/>
<rect x="652" y="7" width="6" height="1" fill="#4a4a4a"/>
<rect x="661" y="7" width="7" height="1" fill="#4a4a4a"/>
<rect x="693" y="1" width="1" height="13" fill="#4a4a4a"/>
<rect x="716" y="7" width="13" height="1" fill="#4a4a4a"/>
</g>
<line x1="744" y1="13.5" x2="756" y2="1.5" stroke="#4a4a4a" stroke-width="1"/>
<line x1="769.8" y1="8.6" x2="777.8" y2="1.2" stroke="#444" stroke-width="0.9"/>
<line x1="775.2" y1="13.8" x2="783.8" y2="5.2" stroke="#444" stroke-width="0.9"/>
<path d="M772.6,6.4 C772,9 772.8,11 772.3,13.8 M775.6,5.2 C775.2,7 775.8,9 775.5,10.6 M778.8,3.2 C778.4,5.5 779,8 778.6,10.2 M781.8,0 C781.4,2 782,4 781.7,6.2" fill="none" stroke="#3a3a3a" stroke-width="1.1"/>
<path d="M770.8,12.3 L773.5,11.2 M773.6,9.4 L776.5,8.2 M776.8,6.8 L779.5,5.5 M779.8,3.8 L782.6,2.6 M781.5,1.4 L783.2,1.4" stroke="#3a3a3a" stroke-width="0.9"/>
<text x="780.6" y="15.9" style="font-family:'Liberation Sans',sans-serif;font-size:6.8px;font-weight:bold;fill:#3a3a3a;letter-spacing:0">E</text>
<g shape-rendering="crispEdges">
<rect x="799" y="0" width="1" height="1" fill="#333"/>
<rect x="801" y="0" width="1" height="1" fill="#333"/>
<rect x="803" y="0" width="1" height="1" fill="#333"/>
<rect x="805" y="0" width="1" height="1" fill="#333"/>
<rect x="807" y="0" width="1" height="1" fill="#333"/>
<rect x="809" y="0" width="1" height="1" fill="#333"/>
<rect x="811" y="0" width="1" height="1" fill="#333"/>
<rect x="799" y="3" width="1" height="1" fill="#333"/>
<rect x="801" y="3" width="1" height="1" fill="#333"/>
<rect x="803" y="3" width="1" height="1" fill="#333"/>
<rect x="805" y="3" width="1" height="1" fill="#333"/>
<rect x="807" y="3" width="1" height="1" fill="#333"/>
<rect x="809" y="3" width="1" height="1" fill="#333"/>
<rect x="811" y="3" width="1" height="1" fill="#333"/>
<rect x="799" y="7" width="1" height="1" fill="#333"/>
<rect x="801" y="7" width="1" height="1" fill="#333"/>
<rect x="803" y="7" width="1" height="1" fill="#333"/>
<rect x="805" y="7" width="1" height="1" fill="#333"/>
<rect x="807" y="7" width="1" height="1" fill="#333"/>
<rect x="809" y="7" width="1" height="1" fill="#333"/>
<rect x="811" y="7" width="1" height="1" fill="#333"/>
<rect x="799" y="11" width="1" height="1" fill="#333"/>
<rect x="801" y="11" width="1" height="1" fill="#333"/>
<rect x="803" y="11" width="1" height="1" fill="#333"/>
<rect x="805" y="11" width="1" height="1" fill="#333"/>
<rect x="807" y="11" width="1" height="1" fill="#333"/>
</g>
<text x="808.6" y="15.9" style="font-family:'Liberation Sans',sans-serif;font-size:6.8px;font-weight:bold;fill:#3a3a3a;letter-spacing:0">F</text>
<text x="829.5" y="12" style="font-family:'Liberation Sans',sans-serif;font-size:12.2px;fill:#555;letter-spacing:0">A</text>
<g shape-rendering="crispEdges">
<rect x="856" y="1" width="1" height="1" fill="#333"/>
<rect x="856" y="13" width="1" height="1" fill="#333"/>
<rect x="858" y="1" width="1" height="1" fill="#333"/>
<rect x="858" y="13" width="1" height="1" fill="#333"/>
<rect x="860" y="1" width="1" height="1" fill="#333"/>
<rect x="860" y="13" width="1" height="1" fill="#333"/>
<rect x="863" y="1" width="1" height="1" fill="#333"/>
<rect x="863" y="13" width="1" height="1" fill="#333"/>
<rect x="865" y="1" width="1" height="1" fill="#333"/>
<rect x="865" y="13" width="1" height="1" fill="#333"/>
<rect x="867" y="1" width="1" height="1" fill="#333"/>
<rect x="867" y="13" width="1" height="1" fill="#333"/>
<rect x="856" y="3" width="1" height="1" fill="#333"/>
<rect x="867" y="3" width="1" height="1" fill="#333"/>
<rect x="856" y="5" width="1" height="1" fill="#333"/>
<rect x="867" y="5" width="1" height="1" fill="#333"/>
<rect x="856" y="7" width="1" height="1" fill="#333"/>
<rect x="867" y="7" width="1" height="1" fill="#333"/>
<rect x="856" y="9" width="1" height="1" fill="#333"/>
<rect x="867" y="9" width="1" height="1" fill="#333"/>
<rect x="856" y="11" width="1" height="1" fill="#333"/>
<rect x="867" y="11" width="1" height="1" fill="#333"/>
</g>
<g shape-rendering="crispEdges">
<rect x="858" y="4" width="8" height="1" fill="#555"/>
<rect x="861" y="4" width="2" height="8" fill="#555"/>
<rect x="855" y="0" width="2" height="1" fill="#555"/>
</g>
<path d="M883,4.5 L886.5,1 L890,4.5 Z" fill="#4a4a4a"/>
<path d="M885.5,8 L887.5,10 L891.5,5.5" fill="none" stroke="#4a4a4a" stroke-width="1"/>
<path d="M890.5,10 L897.5,10 L894,13.5 Z" fill="#4a4a4a"/>
<path d="M903.8,6 h5.5 l-2.75,3.2 z" fill="#000"/>
<text class="tf" x="930.2" y="11" textLength="13.3" lengthAdjust="spacingAndGlyphs">M1</text>
<text class="tf" x="958.5" y="11" textLength="12.9" lengthAdjust="spacingAndGlyphs">M5</text>
<text class="tf" x="984.6" y="11" textLength="17.7" lengthAdjust="spacingAndGlyphs">M15</text>
<text class="tf" x="1012.5" y="11" textLength="18.1" lengthAdjust="spacingAndGlyphs">M30</text>
<text class="tf" x="1043.3" y="11" textLength="12.0" lengthAdjust="spacingAndGlyphs">H1</text>
<text class="tf" x="1070.3" y="11" textLength="12.9" lengthAdjust="spacingAndGlyphs">H4</text>
<text class="tf" x="1099.1999999999998" y="11" textLength="12.2" lengthAdjust="spacingAndGlyphs">D1</text>
<text class="tf" x="1126.3999999999999" y="11" textLength="15.2" lengthAdjust="spacingAndGlyphs">W1</text>
<text class="tf" x="1153.1" y="11" textLength="15.7" lengthAdjust="spacingAndGlyphs">MN</text>
<line x1="1643" y1="8" x2="1639.3" y2="11.8" stroke="#1a5ad0" stroke-width="2.2"/>
<circle cx="1646.5" cy="4.4" r="3.6" fill="#f4f6ff" stroke="#2a6ad8" stroke-width="1.2"/>
<path d="M1668.5,4.3 C1672.5,4.3 1674.5,6.5 1674.5,9 C1674.5,11.7 1672,13.3 1668.5,13.3 L1667.3,13.3 L1666.5,15.5 L1665.5,13 C1664,12.3 1663,10.8 1663,9 C1663,6.5 1665,4.3 1668.5,4.3 Z" fill="#e4e4ee" stroke="#9a9a9a" stroke-width="0.9"/>
<circle cx="1677.4" cy="5" r="8" fill="url(#badge)"/>
<text x="1674.2" y="9.3" style="font-family:'Liberation Serif',serif;font-size:11px;font-weight:bold;fill:#fff">1</text>
</svg>
</body></html>
